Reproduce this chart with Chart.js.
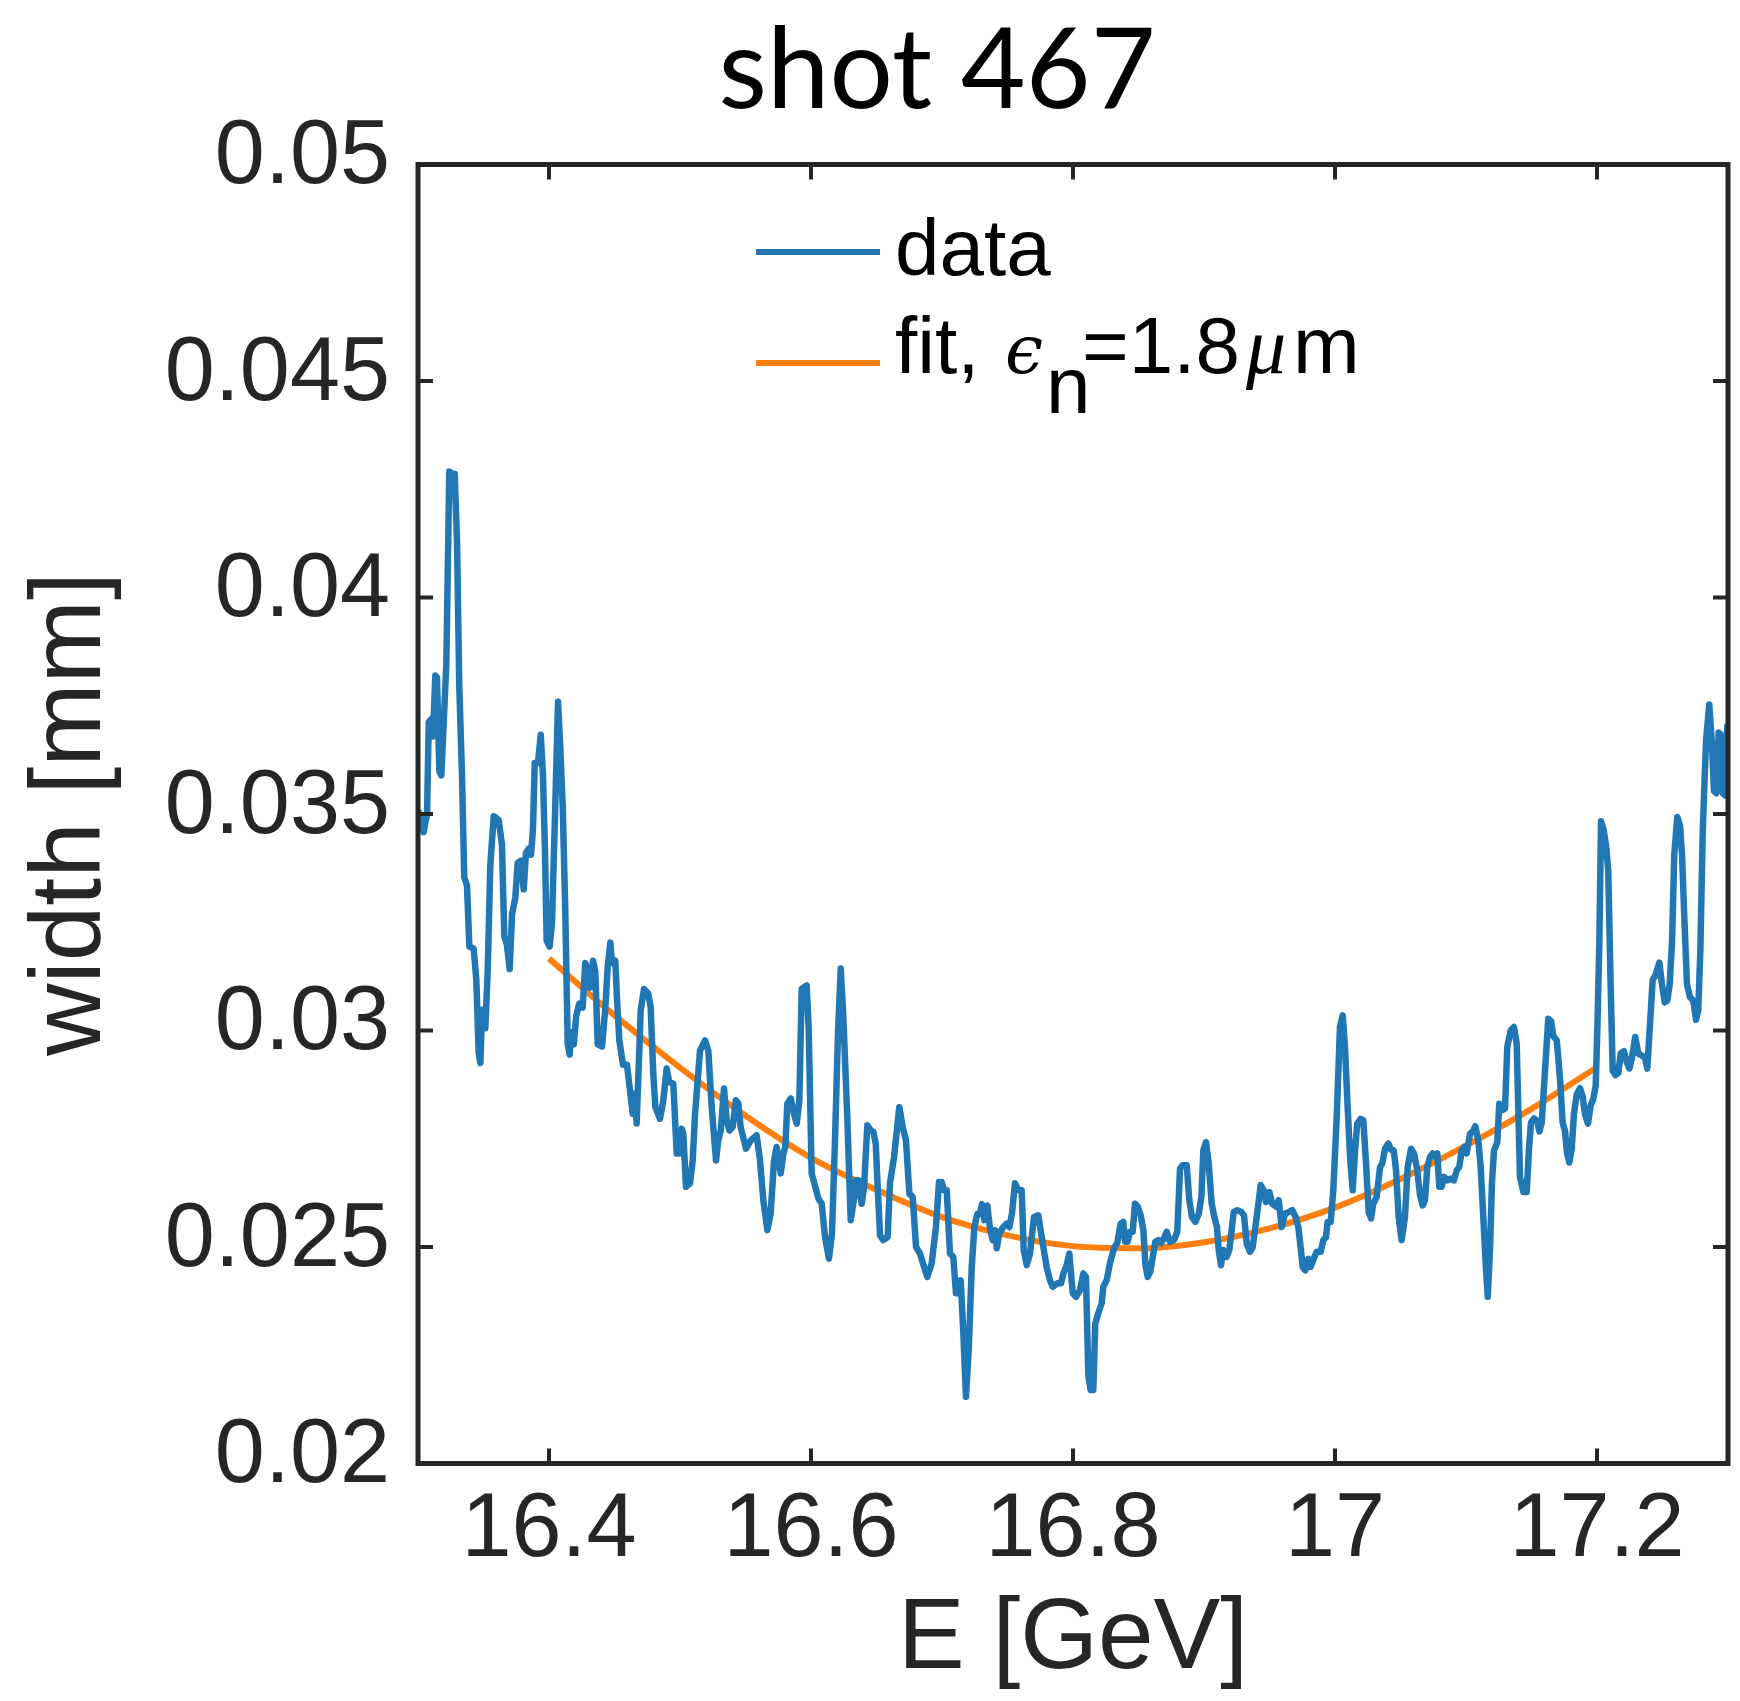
<!DOCTYPE html>
<html>
<head>
<meta charset="utf-8">
<script src="https://cdn.jsdelivr.net/npm/chart.js@4.4.1/dist/chart.umd.min.js"></script>
<style>
  html,body{margin:0;padding:0;background:#fff;}
  #wrap{width:1740px;height:1701px;}
</style>
</head>
<body>
<div id="wrap"><canvas id="c" width="1740" height="1701"></canvas></div>
<script>
const dataE = [16.3005,16.3043,16.3069,16.3082,16.3107,16.3115,16.3132,16.3145,16.3163,16.3178,16.3216,16.3239,16.326,16.328,16.3298,16.3315,16.3336,16.3353,16.3374,16.3392,
16.3425,16.3445,16.3463,16.3476,16.3489,16.3514,16.3532,16.3552,16.3578,16.3616,16.3641,16.3659,16.3679,16.37,16.3718,16.3743,16.3761,16.3786,16.3807,16.3824,
16.3845,16.3863,16.3878,16.3891,16.3916,16.3937,16.3954,16.3969,16.3982,16.4005,16.4023,16.4043,16.4069,16.4086,16.4105,16.4124,16.4143,16.4158,16.417,16.4189,
16.4208,16.4231,16.4257,16.4277,16.4295,16.4313,16.4336,16.4353,16.4372,16.4405,16.443,16.4448,16.4468,16.4481,16.4506,16.4521,16.4537,16.4565,16.4595,16.4639,
16.4651,16.4669,16.47,16.4725,16.4758,16.4776,16.4796,16.4812,16.4847,16.4873,16.4898,16.4918,16.4949,16.4975,16.4995,16.5013,16.5025,16.5046,16.5076,16.5097,
16.5115,16.5153,16.5191,16.5216,16.5242,16.5275,16.5292,16.5311,16.5336,16.5356,16.5377,16.5402,16.5427,16.5445,16.5463,16.5504,16.554,16.5585,16.5611,16.5636,
16.5667,16.5692,16.5718,16.5738,16.5769,16.5789,16.5804,16.5819,16.5845,16.587,16.5891,16.5911,16.5929,16.5967,16.5982,16.6005,16.6033,16.6056,16.6082,16.6107,
16.6137,16.616,16.6183,16.6206,16.6227,16.6247,16.6277,16.6303,16.6328,16.6344,16.6361,16.6387,16.6405,16.643,16.6456,16.6476,16.6494,16.6509,16.6527,16.6552,
16.6585,16.6603,16.6634,16.6674,16.67,16.6725,16.6751,16.6776,16.6802,16.6832,16.6863,16.6888,16.6921,16.6954,16.6977,16.6998,16.7015,16.7036,16.7061,16.7086,
16.7107,16.7127,16.7143,16.7163,16.7183,16.7204,16.7227,16.7247,16.727,16.729,16.7305,16.7323,16.7346,16.7366,16.7387,16.7405,16.7418,16.7437,16.7468,16.7494,
16.7514,16.7534,16.7557,16.7583,16.7608,16.7624,16.7647,16.7672,16.7702,16.7735,16.7769,16.7799,16.7824,16.7845,16.788,16.7908,16.7931,16.7952,16.7972,16.7998,
16.8023,16.8053,16.8079,16.8099,16.8117,16.8135,16.8155,16.817,16.8193,16.8219,16.8231,16.8257,16.8282,16.8313,16.8338,16.8364,16.8384,16.8399,16.8417,16.8435,
16.8456,16.8473,16.8494,16.8517,16.8537,16.8552,16.857,16.859,16.8611,16.8628,16.8651,16.8672,16.8695,16.8715,16.874,16.8771,16.8796,16.8817,16.8837,16.8868,
16.8888,16.8908,16.8934,16.896,16.898,16.8995,16.9015,16.9036,16.9059,16.9079,16.9099,16.9112,16.913,16.9147,16.9173,16.9193,16.9211,16.9227,16.9254,16.9285,
16.9305,16.9326,16.9351,16.9372,16.9402,16.9433,16.9453,16.9473,16.9499,16.9521,16.955,16.957,16.9593,16.9618,16.9649,16.9674,16.97,16.972,16.974,16.9753,
16.9773,16.9796,16.9814,16.9834,16.986,16.9891,16.9911,16.9931,16.9944,16.9967,16.9987,17.0013,17.0038,17.0059,17.0076,17.0094,17.0115,17.0135,17.0153,17.017,
17.0196,17.0216,17.0237,17.0257,17.0275,17.0292,17.0318,17.0344,17.0361,17.0382,17.0407,17.0427,17.0448,17.0466,17.0486,17.0509,17.0534,17.0555,17.058,17.0603,
17.0626,17.0649,17.0669,17.0687,17.0705,17.0725,17.0746,17.0766,17.0781,17.0796,17.0814,17.0832,17.0857,17.0883,17.0908,17.0929,17.0949,17.0967,17.0987,17.1005,
17.1031,17.1051,17.1071,17.1094,17.1112,17.1132,17.1153,17.1166,17.1183,17.1198,17.1214,17.1239,17.1254,17.1277,17.1298,17.1315,17.1341,17.1366,17.1387,17.1412,
17.1438,17.1463,17.1481,17.1496,17.1519,17.1542,17.156,17.1578,17.1603,17.1628,17.1649,17.1667,17.1693,17.1718,17.1738,17.1756,17.1771,17.1789,17.1807,17.1824,
17.1845,17.187,17.1891,17.1908,17.1931,17.1952,17.1972,17.199,17.2003,17.2018,17.2031,17.2051,17.2071,17.2086,17.2104,17.212,17.214,17.2163,17.2181,17.2206,
17.2227,17.2247,17.2267,17.2292,17.2315,17.2341,17.2366,17.2384,17.2405,17.2425,17.2445,17.2476,17.2496,17.2517,17.2537,17.2555,17.2573,17.259,17.2613,17.2634,
17.2649,17.2667,17.2687,17.271,17.2735,17.2756,17.2773,17.2789,17.2807,17.2832,17.2857,17.2878,17.2893,17.2911,17.2929,17.2947,17.296,17.2977,17.2995];

const dataW = [0.03505,0.03458,0.0350,0.03712,0.03721,0.03679,0.0382,0.03815,0.03599,0.03589,0.03844,0.04291,0.04286,0.04286,0.04126,0.03796,0.03589,0.03354,0.03335,0.03194,
0.03189,0.03118,0.02949,0.02925,0.03048,0.03005,0.03137,0.03382,0.03495,0.03486,0.03429,0.03217,0.03198,0.03142,0.03269,0.03307,0.03387,0.03392,0.03326,0.0341,
0.0342,0.03406,0.03467,0.03618,0.03618,0.03683,0.03589,0.0342,0.03208,0.03194,0.0325,0.03467,0.03759,0.03655,0.03514,0.03279,0.02968,0.02944,0.02996,0.02968,
0.03034,0.03062,0.03053,0.03156,0.03137,0.03099,0.03161,0.03137,0.02968,0.02963,0.03053,0.03147,0.03203,0.03156,0.03161,0.03062,0.02977,0.02921,0.02921,0.02808,
0.02854,0.02785,0.03046,0.03096,0.03085,0.03054,0.029,0.02823,0.02796,0.02839,0.02912,0.02881,0.02877,0.02716,0.02716,0.02773,0.02762,0.02639,0.02647,0.027,
0.02808,0.02954,0.02977,0.02954,0.02823,0.027,0.02746,0.02769,0.02866,0.02793,0.02769,0.02777,0.02839,0.02831,0.02777,0.02727,0.02746,0.02758,0.027,0.02608,
0.02539,0.02577,0.027,0.02731,0.0267,0.02716,0.02731,0.02831,0.02843,0.02808,0.02785,0.02839,0.03096,0.03104,0.03008,0.0267,0.02639,0.02612,0.026,0.02523,
0.02473,0.02531,0.02746,0.02993,0.03143,0.03031,0.028,0.02562,0.0261,0.02654,0.02654,0.026,0.02639,0.02781,0.02769,0.02766,0.02739,0.02639,0.02527,0.02516,
0.02523,0.02647,0.02708,0.02823,0.02777,0.02746,0.02623,0.02616,0.025,0.02485,0.02454,0.02431,0.02462,0.02546,0.0265,0.0265,0.02631,0.02631,0.02485,0.02477,
0.02393,0.02393,0.02423,0.023,0.02154,0.02262,0.02454,0.02546,0.02577,0.02577,0.02599,0.02562,0.02596,0.02543,0.02516,0.02539,0.02497,0.02531,0.02546,0.02554,
0.02546,0.02577,0.02647,0.02631,0.02631,0.02493,0.02458,0.02485,0.02569,0.02573,0.02508,0.02454,0.02423,0.02408,0.02416,0.02416,0.02443,0.02458,0.02485,0.02393,
0.02385,0.024,0.02439,0.02431,0.02204,0.0217,0.0217,0.02323,0.02347,0.0237,0.02408,0.02423,0.02462,0.02497,0.02509,0.02554,0.02558,0.02512,0.02512,0.02535,
0.02535,0.026,0.02593,0.02573,0.02539,0.02462,0.02431,0.02443,0.02481,0.02512,0.02516,0.02509,0.0252,0.02535,0.02512,0.02516,0.02535,0.02681,0.02689,0.02689,
0.02608,0.02569,0.02558,0.02577,0.02616,0.02723,0.02742,0.02693,0.026,0.02569,0.02546,0.02493,0.02458,0.02493,0.02477,0.02493,0.02539,0.02581,0.02585,0.02581,
0.02573,0.02508,0.02489,0.025,0.02569,0.02643,0.02633,0.02604,0.02627,0.026,0.02593,0.02608,0.02546,0.02577,0.02581,0.02585,0.02569,0.02546,0.02493,0.02454,
0.02446,0.02473,0.02454,0.0247,0.02489,0.02489,0.02516,0.02523,0.02558,0.02558,0.02631,0.028,0.03008,0.03035,0.02962,0.02839,0.02708,0.02631,0.02723,0.02785,
0.02796,0.02793,0.02693,0.02581,0.02566,0.026,0.02616,0.02685,0.02693,0.02727,0.02739,0.02725,0.02723,0.02677,0.02569,0.02516,0.02569,0.02685,0.02727,0.02716,
0.02681,0.0262,0.02596,0.02608,0.02685,0.02708,0.02716,0.02708,0.02716,0.02639,0.02639,0.02662,0.02654,0.02658,0.02654,0.02677,0.02685,0.02723,0.02731,0.02716,
0.02762,0.02766,0.02779,0.02746,0.02685,0.02569,0.02446,0.02385,0.02493,0.02647,0.02723,0.02742,0.02831,0.02816,0.0282,0.02962,0.03,0.03008,0.0297,0.02662,
0.02627,0.02627,0.02727,0.02787,0.02797,0.02792,0.02767,0.02787,0.02907,0.03027,0.03022,0.02987,0.02977,0.02887,0.02787,0.02767,0.02717,0.02695,0.02727,0.02807,
0.02852,0.02867,0.02847,0.02807,0.02785,0.02827,0.02842,0.02872,0.03007,0.03207,0.03483,0.03463,0.03422,0.03368,0.03107,0.02907,0.02897,0.02902,0.02947,0.02952,
0.02927,0.02912,0.02937,0.02985,0.02947,0.02942,0.02937,0.02912,0.03017,0.03117,0.03127,0.03157,0.03107,0.03065,0.03069,0.03107,0.03207,0.03407,0.03493,0.03473,
0.03407,0.03257,0.03107,0.03077,0.03069,0.03025,0.03047,0.03187,0.03458,0.03668,0.03753,0.03658,0.03553,0.03548,0.03688,0.03683,0.03548,0.03543,0.03703];

// emittance fit curve
const fitE = [16.4,16.45,16.5,16.55,16.6,16.65,16.7,16.75,16.8,16.85,16.9,16.95,17.0,17.05,17.1,17.15,17.2];
const fitW = [0.03166,0.03035,0.02914,0.02803,0.02706,0.02632,0.02569,0.02527,0.02502,0.02497,0.02511,0.02543,0.02591,0.02657,0.02734,0.02819,0.02915];

const xTicks = [16.4,16.6,16.8,17,17.2];
const xTickLabels = ['16.4','16.6','16.8','17','17.2'];
const yTicks = [0.02,0.025,0.03,0.035,0.04,0.045,0.05];
const yTickLabels = ['0.02','0.025','0.03','0.035','0.04','0.045','0.05'];

const AX = '#262626';
const BLUE = '#2077b4';
const ORANGE = '#ff7f0e';
const SANS = '"Liberation Sans", Arial, sans-serif';

const frame = {
  id:'frame',
  afterDatasetsDraw(chart){
    const {ctx, chartArea:a, scales} = chart;
    ctx.save();
    ctx.strokeStyle = AX;
    ctx.lineWidth = 4;
    const tl = 15;
    ctx.beginPath();
    xTicks.forEach(v => {
      const px = scales.x.getPixelForValue(v);
      ctx.moveTo(px, a.bottom); ctx.lineTo(px, a.bottom - tl);
      ctx.moveTo(px, a.top); ctx.lineTo(px, a.top + tl);
    });
    yTicks.forEach(v => {
      const py = scales.y.getPixelForValue(v);
      ctx.moveTo(a.left, py); ctx.lineTo(a.left + tl, py);
      ctx.moveTo(a.right, py); ctx.lineTo(a.right - tl, py);
    });
    ctx.stroke();
    ctx.lineWidth = 5;
    ctx.strokeRect(a.left, a.top, a.right - a.left, a.bottom - a.top);
    ctx.restore();
  }
};

const heading = {
  id:'heading',
  afterDraw(chart){
    const ctx = chart.ctx;
    ctx.save();
    ctx.fillStyle = '#000';
    ctx.font = '112px Lato, "Open Sans", sans-serif';
    ctx.textAlign = 'center';
    ctx.textBaseline = 'alphabetic';
    ctx.fillText('shot 467', 937, 108);
    ctx.restore();
  }
};

const legendBox = {
  id:'legendBox',
  afterDraw(chart){
    const ctx = chart.ctx;
    const ds = chart.data.datasets;
    ctx.save();
    ctx.lineWidth = 6;
    ctx.strokeStyle = ds[0].borderColor;
    ctx.beginPath(); ctx.moveTo(756, 252); ctx.lineTo(880, 252); ctx.stroke();
    ctx.strokeStyle = ds[1].borderColor;
    ctx.beginPath(); ctx.moveTo(756, 363); ctx.lineTo(880, 363); ctx.stroke();
    ctx.fillStyle = '#000';
    ctx.textBaseline = 'alphabetic';
    ctx.font = '80px ' + SANS;
    ctx.fillText('data', 895, 275);
    ctx.fillText('fit,', 895, 373);
    ctx.font = 'italic 68px "DejaVu Serif", serif';
    ctx.fillText('\u03f5', 1005, 373);
    ctx.font = '80px ' + SANS;
    ctx.fillText('n', 1046, 413);
    ctx.fillText('=1.8', 1082, 373);
    ctx.font = 'italic 80px "Liberation Serif", serif';
    ctx.fillText('\u03bc', 1246, 373);
    ctx.font = '80px ' + SANS;
    ctx.fillText('m', 1293, 373);
    ctx.restore();
  }
};

new Chart(document.getElementById('c'), {
  type:'line',
  data:{
    datasets:[
      { label:'data', data:dataE.map((e,i)=>({x:e, y:dataW[i]})), borderColor:BLUE, borderWidth:6.5, borderJoinStyle:'round', borderCapStyle:'round', pointRadius:0, tension:0, fill:false },
      { label:'fit', data:fitE.map((e,i)=>({x:e, y:fitW[i]})), borderColor:ORANGE, borderWidth:6, borderCapStyle:'butt', pointRadius:0, cubicInterpolationMode:'monotone', fill:false }
    ]
  },
  options:{
    responsive:false,
    animation:false,
    devicePixelRatio:1,
    layout:{ padding:{ top:164.5, right:12, bottom:0, left:0 } },
    plugins:{ legend:{display:false}, title:{display:false}, tooltip:{enabled:false} },
    scales:{
      x:{
        type:'linear', min:16.3, max:17.3,
        afterBuildTicks: s => { s.ticks = xTicks.map(v => ({value:v})); },
        afterFit: s => { s.height = 237.5; },
        grid:{ display:false, drawTicks:false },
        border:{ display:false },
        ticks:{ callback:(v,i)=>xTickLabels[i], autoSkip:false, maxRotation:0, padding:14, color:AX, font:{ family:SANS, size:90 } },
        title:{ display:true, text:'E [GeV]', color:AX, font:{ family:SANS, size:100 }, padding:{ top:0, bottom:1 } }
      },
      y:{
        type:'linear', min:0.02, max:0.05,
        afterBuildTicks: s => { s.ticks = yTicks.map(v => ({value:v})); },
        afterFit: s => { s.width = 418; },
        grid:{ display:false, drawTicks:false },
        border:{ display:false },
        ticks:{ callback:(v,i)=>yTickLabels[i], autoSkip:false, padding:28, labelOffset:-6, color:AX, font:{ family:SANS, size:90 } },
        title:{ display:true, text:'width [mm]', color:AX, font:{ family:SANS, size:100 }, padding:{ top:12, bottom:0 } }
      }
    }
  },
  plugins:[frame, heading, legendBox]
});
</script>
</body>
</html>
